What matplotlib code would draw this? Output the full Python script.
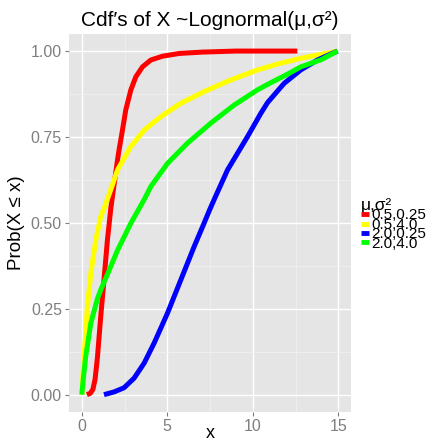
import matplotlib
matplotlib.use("Agg")
import matplotlib.pyplot as plt

plt.rcParams['font.family'] = ['Liberation Sans', 'DejaVu Sans']

# ---- data ----
red_x = [0.30, 0.50, 0.65, 0.78, 0.92, 1.11, 1.30, 1.50, 1.70, 1.90, 2.09, 2.18,
         2.38, 2.57, 2.87, 3.16, 3.55, 4.04, 4.72, 5.69, 7.06, 9.00, 12.60]
red_y = [0.000, 0.004, 0.015, 0.045, 0.110, 0.228, 0.334, 0.450, 0.543, 0.615,
         0.683, 0.712, 0.770, 0.828, 0.887, 0.925, 0.954, 0.974, 0.985, 0.993,
         0.997, 1.000, 1.000]

yellow_x = [0.00, 0.05, 0.13, 0.23, 0.33, 0.53, 0.82, 1.11, 1.40, 1.79, 2.09, 2.87,
            3.65, 4.62, 5.79, 7.15, 8.71, 10.27, 11.50, 12.80, 14.95]
yellow_y = [0.000, 0.040, 0.110, 0.180, 0.256, 0.354, 0.450, 0.518, 0.555, 0.610,
            0.654, 0.722, 0.770, 0.809, 0.848, 0.882, 0.916, 0.945, 0.963, 0.979,
            1.000]

blue_x = [1.30, 1.89, 2.47, 3.06, 3.65, 4.23, 5.01, 5.79, 6.57, 7.15, 7.45, 7.74,
          8.52, 9.69, 10.47, 10.86, 11.83, 12.80, 13.78, 14.95]
blue_y = [0.000, 0.008, 0.020, 0.048, 0.092, 0.150, 0.237, 0.334, 0.431, 0.499,
          0.535, 0.568, 0.654, 0.751, 0.819, 0.850, 0.906, 0.945, 0.974, 1.000]

green_x = [0.00, 0.10, 0.23, 0.53, 0.92, 1.11, 1.50, 2.09, 2.87, 3.64, 4.04, 5.01,
           6.18, 7.54, 8.91, 10.27, 10.86, 12.00, 12.80, 14.00, 14.95]
green_y = [0.000, 0.050, 0.110, 0.208, 0.280, 0.305, 0.350, 0.420, 0.499, 0.567,
           0.606, 0.673, 0.732, 0.790, 0.843, 0.887, 0.903, 0.932, 0.954, 0.975,
           1.000]

labels = ["0.5,0.25", "0.5,4.0", "2.0,0.25", "2.0,4.0"]
colors = ["#FF0000", "#FFFF00", "#0000FF", "#00FF00"]

x_ticks = [0, 5, 10, 15]
y_ticks = [0.0, 0.25, 0.5, 0.75, 1.0]
y_ticklabels = ["0.00", "0.25", "0.50", "0.75", "1.00"]

# ---- plot ----
fig = plt.figure(figsize=(4.39, 4.40), dpi=100)
ax = fig.add_axes([0.157, 0.064, 0.643, 0.859])
ax.set_facecolor("#E5E5E5")

series = [(red_x, red_y), (yellow_x, yellow_y), (blue_x, blue_y), (green_x, green_y)]
for (xs, ys), c, lab in zip(series, colors, labels):
    ax.plot(xs, ys, color=c, lw=3.6, label=lab, solid_capstyle="butt",
            solid_joinstyle="round")

ax.set_xlim(-0.75, 15.75)
ax.set_ylim(-0.05, 1.05)
ax.set_xticks(x_ticks)
ax.set_yticks(y_ticks)
ax.set_yticklabels(y_ticklabels)
ax.set_xticks([2.5, 7.5, 12.5], minor=True)
ax.set_yticks([0.125, 0.375, 0.625, 0.875], minor=True)
ax.grid(which="major", color="white", lw=1.0)
ax.grid(which="minor", color="#F2F2F2", lw=0.5)
ax.set_axisbelow(True)
for s in ax.spines.values():
    s.set_visible(False)
ax.tick_params(which="major", length=3, width=0.8, color="#7F7F7F",
               labelcolor="#7F7F7F", labelsize=11.5, pad=2)
ax.tick_params(which="minor", length=0)

ax.set_xlabel("x", fontsize=13, labelpad=-6)
ax.set_ylabel("Prob(X \u2264 x)", fontsize=13.5, labelpad=4)
ax.set_title("Cdf\u2032s of X ~Lognormal(\u03bc,\u03c3\u00b2)", fontsize=15, pad=6)

leg = fig.legend(loc="center left", bbox_to_anchor=(0.805, 0.49),
                 title="\u03bc,\u03c3\u00b2", fontsize=11, title_fontsize=12.5,
                 frameon=False, handlelength=0.55, handletextpad=0.15,
                 labelspacing=-0.3, alignment="left", borderpad=0)
for line in leg.get_lines():
    line.set_linewidth(3.5)

fig.savefig("out.png", dpi=100)
